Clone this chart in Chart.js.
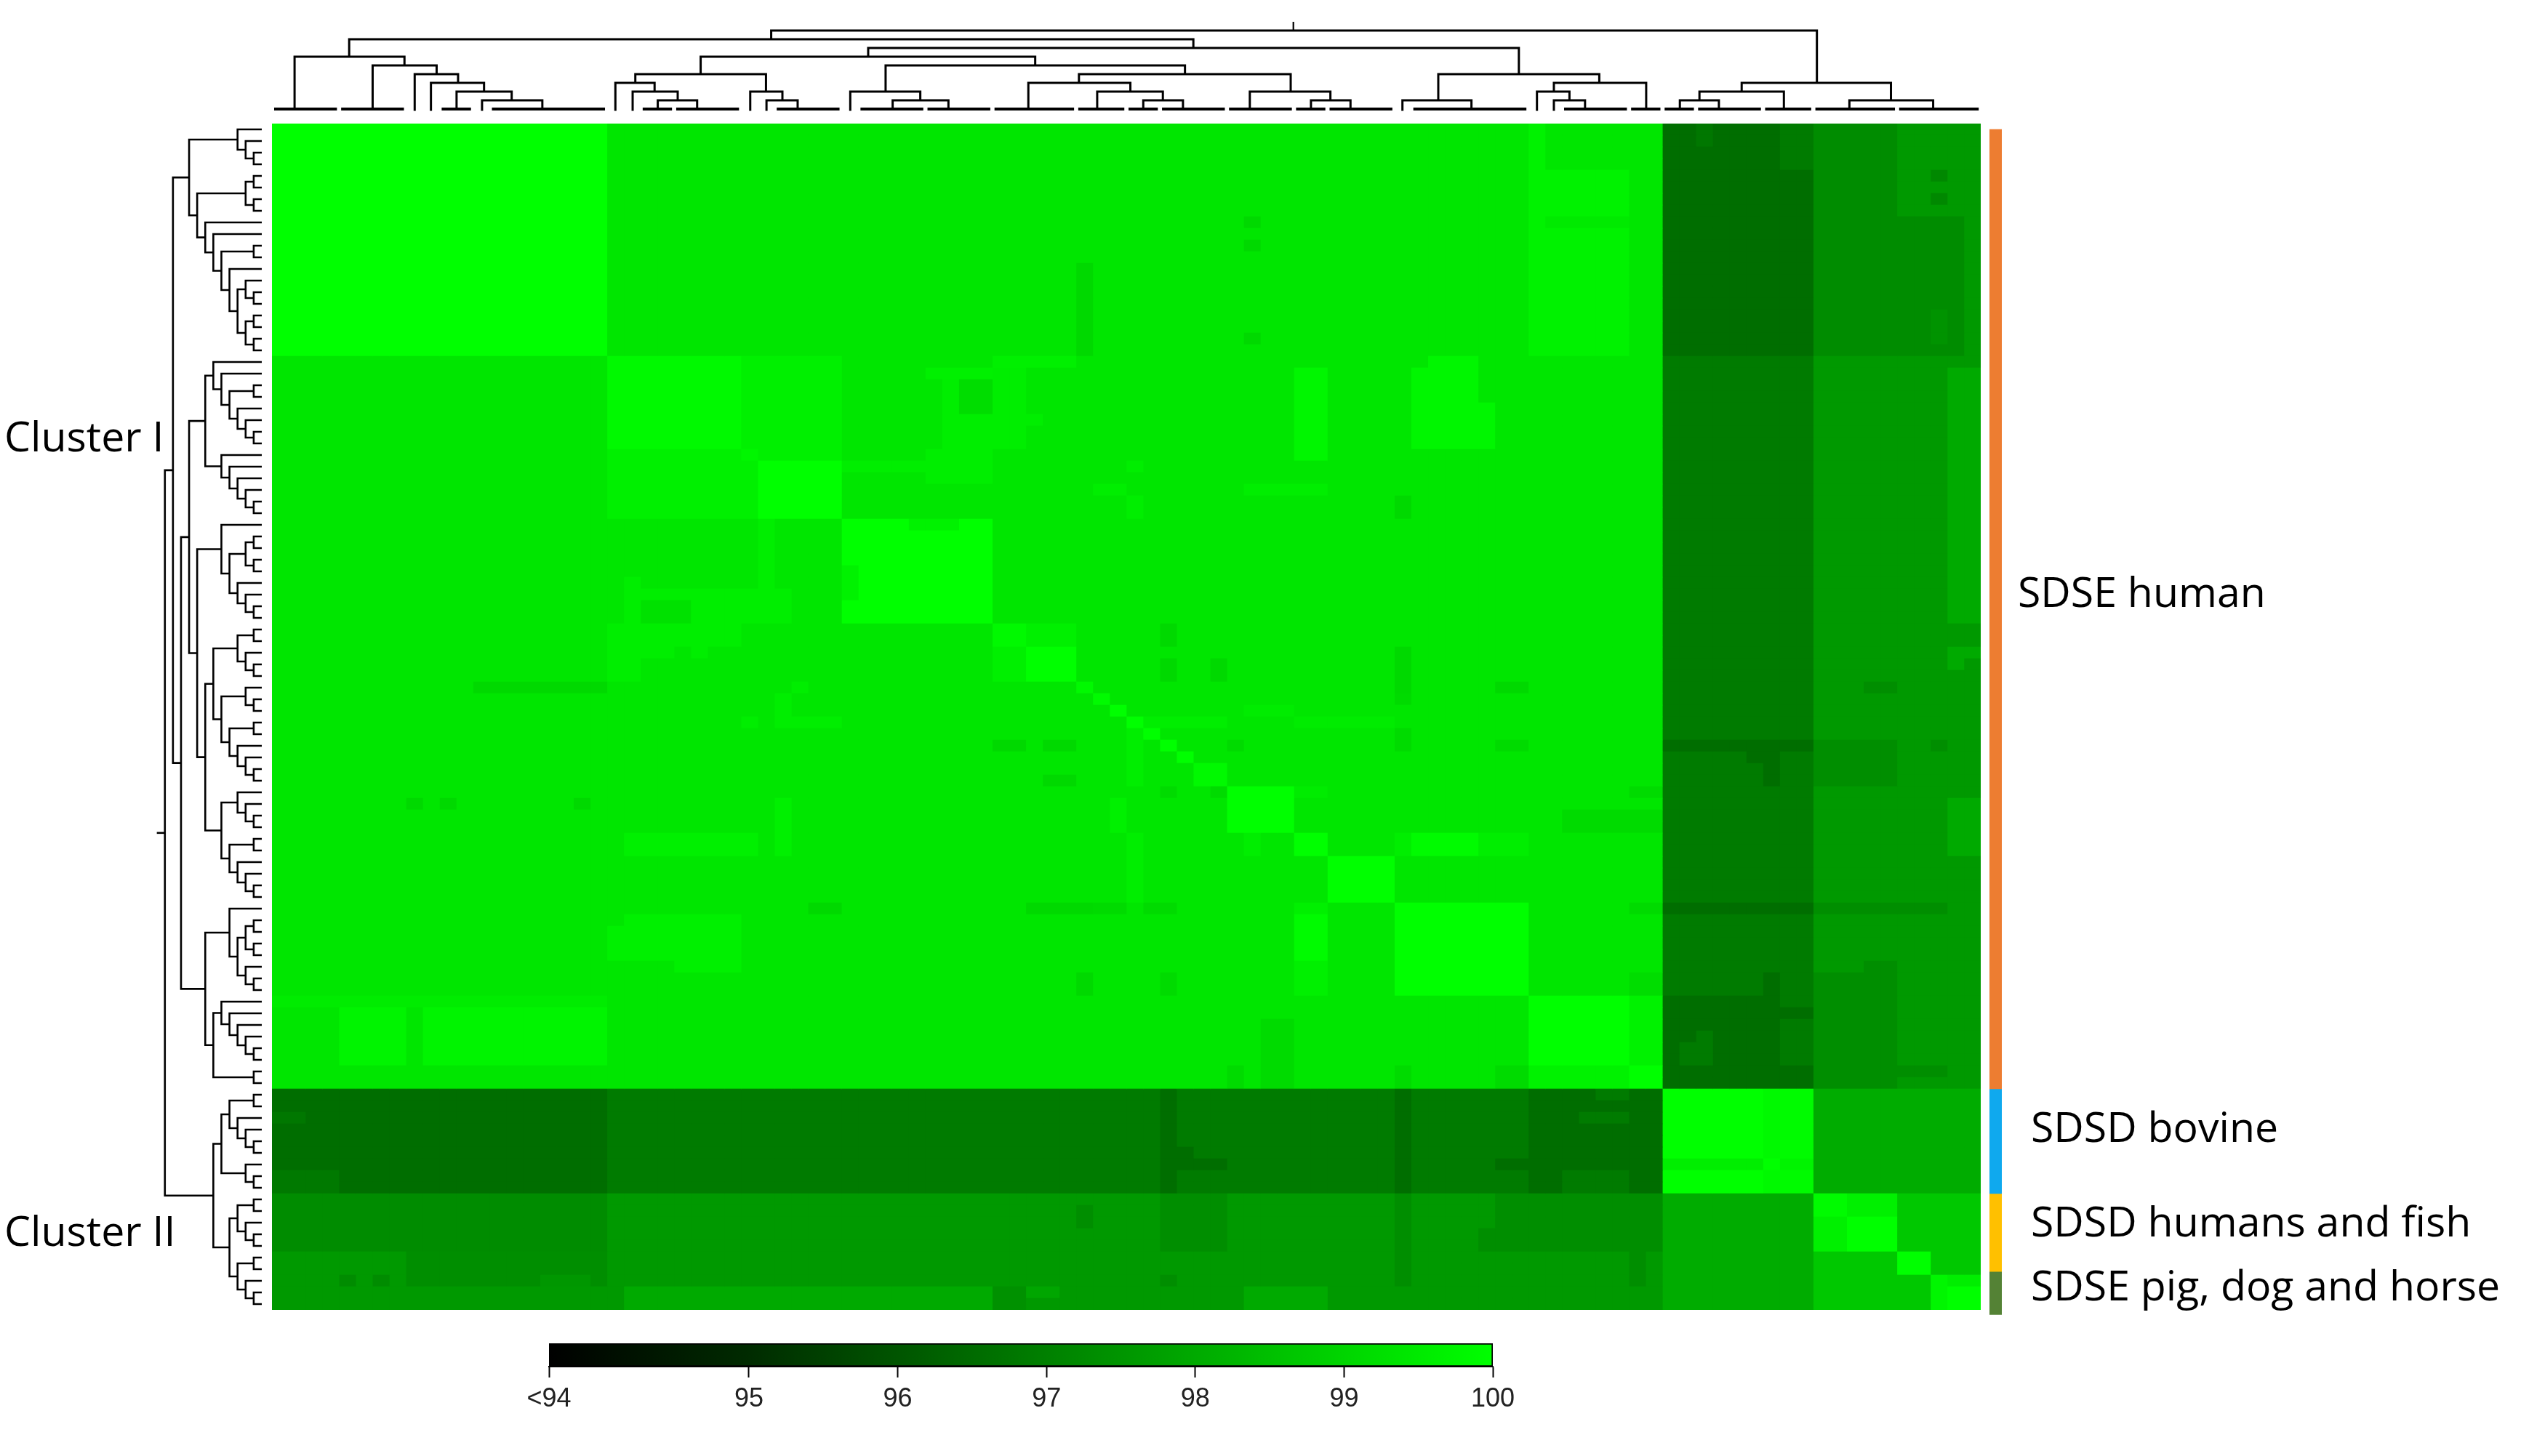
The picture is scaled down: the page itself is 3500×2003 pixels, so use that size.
<!DOCTYPE html>
<html>
<head>
<meta charset="utf-8">
<title>SDSE / SDSD identity heatmap</title>
<script src="https://cdn.jsdelivr.net/npm/chart.js@4"></script>
<style>
  html, body { margin: 0; background: #fff; }
  #page { position: relative; width: 3500px; height: 2003px; overflow: hidden; }
  canvas { position: absolute; }
  .label { position: absolute; font-family: "Open Sans", sans-serif; font-size: 57.2px; line-height: 1; color: #000; white-space: nowrap; }
</style>
</head>
<body>
<div id="page">
  <div class="label" style="left:6px;top:571px">Cluster I</div>
  <div class="label" style="left:6px;top:1664px">Cluster II</div>
  <div class="label" style="left:2775px;top:785px">SDSE human</div>
  <div class="label" style="left:2793px;top:1521px">SDSD bovine</div>
  <div class="label" style="left:2793px;top:1651px">SDSD humans and fish</div>
  <div class="label" style="left:2793px;top:1739px">SDSE pig, dog and horse</div>
</div>
<script>
// 102 isolates in the same order on both axes, values are % identity
const isolateCount = 102;

// large blocks of the matrix: row band x column band
const blockRows = [0, 20, 83, 92, 97, 102];
const blockCols = [0, 20, 83, 92, 97, 102];
const blockValues = [
    [100, 99.4, 96.6, 97.3, 97.6],
    [99.4, 99.4, 96.9, 97.6, 97.6],
    [96.6, 96.9, 100, 98.05, 98.05],
    [97.3, 97.6, 98.05, 100, 98.7],
    [97.6, 97.6, 98.05, 98.7, 98.7]
];

// smaller areas: [rowFrom, rowTo, colFrom, colTo, value]
const upperPatches = [
    [0,20,75,76,99.7], [4,8,76,81,99.7], [9,20,76,81,99.7], [8,9,76,81,99.5],
    [0,2,85,86,96.8], [0,4,90,92,96.9],
    [8,20,97,101,97.3], [4,5,99,100,97.2], [6,7,99,100,97.2], [16,19,99,100,97.45],
    [12,20,48,49,99.1], [8,9,58,59,99.1], [10,11,58,59,99.1], [18,19,58,59,99.1],
    [21,43,100,102,98], [58,63,100,102,98], [45,46,100,102,98], [46,47,100,101,98]
];
const middlePatches = [
    [20,29,28,34,99.65], [28,34,20,29,99.65], [28,29,28,29,99.8],
    [21,22,39,43,99.65], [22,29,40,41,99.6], [22,25,41,43,99.2], [25,28,41,43,99.6],
    [28,31,39,43,99.6], [29,30,34,39,99.6], [20,21,43,48,99.65], [21,28,43,45,99.6], [25,26,45,46,99.6],
    [34,43,29,30,99.6], [39,48,21,22,99.6], [40,41,22,28,99.6], [40,43,25,31,99.6], [41,43,22,25,99.3],
    [43,45,20,28,99.6], [45,46,22,24,99.6], [45,46,25,26,99.6], [45,48,20,21,99.6],
    [48,49,12,20,99.1], [48,49,31,32,99.6], [49,52,30,31,99.6], [51,52,31,34,99.6], [51,52,28,29,99.6],
    [53,54,43,45,99.1], [53,54,46,48,99.1], [56,57,46,48,99.1],
    [58,59,8,9,99.1], [58,59,10,11,99.1], [58,59,18,19,99.1],
    [58,63,30,31,99.65], [61,63,21,29,99.65], [67,68,32,34,99.1], [67,68,45,51,99.1],
    [68,69,21,28,99.65], [69,72,20,28,99.65], [72,73,24,28,99.65], [73,75,48,49,99.1],
    [75,76,0,20,99.55], [76,81,4,8,99.75], [76,81,9,20,99.75],
    [21,29,61,63,99.8], [21,28,68,72,99.8], [20,21,69,72,99.8], [24,28,72,73,99.8],
    [29,30,51,52,99.6], [31,32,49,51,99.6], [32,34,51,52,99.6], [31,32,58,63,99.6], [32,34,67,68,99.1],
    [43,45,53,54,99.1], [46,48,53,54,99.1], [46,48,56,57,99.1], [45,49,67,68,99.1], [48,49,73,75,99.1],
    [51,52,51,57,99.6], [51,57,51,52,99.6], [50,51,58,61,99.55], [51,52,61,67,99.55],
    [49,50,67,68,99.15], [52,54,67,68,99.15], [53,54,73,75,99.15], [53,54,57,58,99.15],
    [57,58,53,54,99.15], [57,58,56,57,99.15], [57,58,61,63,99.55], [57,58,81,83,99.15],
    [58,61,50,51,99.65], [61,67,51,52,99.6], [61,63,58,59,99.6],
    [61,63,68,72,99.9], [61,63,67,68,99.6], [61,63,72,75,99.6], [59,61,77,83,99.15],
    [67,68,61,63,99.65], [68,72,61,63,99.9], [72,75,61,63,99.65],
    [67,68,49,51,99.15], [67,68,52,54,99.15], [67,68,81,83,99.15], [73,75,53,54,99.15], [73,75,81,83,99.2],
    [77,83,59,61,99.15], [81,83,57,58,99.15], [81,83,67,68,99.15], [81,83,73,75,99.15]
];
const darkColumnPatches = [
    [53,54,83,92,96.6], [53,57,92,97,97.35], [53,54,99,100,97.35], [54,55,88,90,96.6], [55,57,89,90,96.6],
    [67,68,83,92,96.6], [67,68,92,100,97.35], [73,75,89,90,96.6], [73,75,92,95,97.35], [72,75,95,97,97.35],
    [75,83,83,90,96.6], [75,77,90,92,96.9], [76,77,90,92,96.6], [81,83,90,92,96.6], [79,81,84,85,96.9], [78,81,85,86,96.9],
    [75,83,92,97,97.35], [81,82,97,100,97.35], [48,49,95,97,97.35]
];
const lowerPatches = [
    [85,86,0,2,96.8], [90,92,0,4,96.85],
    [83,92,53,54,96.6], [83,92,67,68,96.6], [83,92,75,83,96.6], [83,84,79,81,96.9], [85,86,78,81,96.9], [90,92,77,81,96.9],
    [89,90,73,76,96.6], [89,90,54,57,96.6], [88,89,54,55,96.6],
    [92,97,53,57,97.35], [92,100,67,68,97.35], [92,95,73,83,97.35], [95,97,72,83,97.35], [97,100,81,82,97.35],
    [99,100,53,54,97.35], [93,95,48,49,97.35],
    [97,99,8,20,97.35], [99,100,8,16,97.35], [99,100,16,19,97.55], [99,100,19,20,97.35], [99,100,4,5,97.3], [99,100,6,7,97.3],
    [100,102,21,43,98], [100,102,58,63,98], [100,102,43,45,97.4], [100,101,45,47,97.9]
];
const diagonalPatches = [
    [20,28,20,28,99.85], [29,34,29,34,100], [34,43,34,43,100], [34,35,38,41,99.7], [38,41,34,35,99.7],
    [43,45,43,45,99.85], [43,45,45,48,99.65], [45,48,43,45,99.65], [45,48,45,48,100],
    [48,49,48,49,99.85], [49,50,49,50,99.9], [50,51,50,51,100], [51,52,51,52,100], [52,53,52,53,100],
    [53,54,53,54,100], [54,55,54,55,100], [55,57,55,57,99.85],
    [57,61,57,61,100], [61,63,61,63,100], [63,67,63,67,100], [67,75,67,75,100], [75,81,75,81,100],
    [81,83,75,81,99.7], [75,81,81,83,99.7], [81,83,81,83,100],
    [83,92,89,90,99.85], [83,92,90,92,99.9], [89,90,83,89,99.6], [89,90,90,92,99.75], [89,90,89,90,100],
    [92,94,92,94,99.9], [92,94,94,97,99.65], [94,97,92,94,99.65],
    [97,99,97,99,100], [99,102,99,100,99.8], [100,102,100,102,100], [99,100,100,102,99.6]
];

// row dendrogram, [height, childA, childB], a plain number is a row
const rowTreeClusterOne = [9,
    [3, 0, [2, 1, [1, 2, 3]]],
    [8,
        [2, [1, 4, 5], [1, 6, 7]],
        [7, 8, [6, 9, [5, [1, 10, 11], [4, 12, [3, [2, 13, [1, 14, 15]], [2, [1, 16, 17], [1, 18, 19]]]]]]]]];
const rowTreeP = [7,
    [6, 20, [5, 21, [4, [1, 22, 23], [3, 24, [2, 25, [1, 26, 27]]]]]],
    [5, 28, [4, 29, [3, 30, [2, 31, [1, 32, 33]]]]]];
const rowTreeQ = [5, 34, [4, [2, [1, 35, 36], [1, 37, 38]], [3, 39, [2, 40, [1, 41, 42]]]]];
const rowTreeR = [7,
    [6, [3, [1, 43, 44], [2, 45, [1, 46, 47]]],
        [5, [2, 48, [1, 49, 50]], [4, [1, 51, 52], [3, 53, [2, 54, [1, 55, 56]]]]]],
    [5, [3, 57, [2, 58, [1, 59, 60]]], [4, [1, 61, 62], [3, 63, [2, 64, [1, 65, 66]]]]]];
const rowTreeS = [7,
    [4, 67, [3, [2, [1, 68, 69], [1, 70, 71]], [2, 72, [1, 73, 74]]]],
    [6, [5, 75, [4, 76, [3, 77, [2, 78, [1, 79, 80]]]]], [1, 81, 82]]];
const rowTreeClusterTwo = [6,
    [5, [4, [1, 83, 84], [3, 85, [2, 86, [1, 87, 88]]]], [2, 89, [1, 90, 91]]],
    [4, [3, [1, 92, 93], [2, 94, [1, 95, 96]]], [3, [1, 97, 98], [2, 99, [1, 100, 101]]]]];
const rowTree = [12, [11, rowTreeClusterOne, [10, [9, rowTreeP, [8, rowTreeQ, rowTreeR]], rowTreeS]], rowTreeClusterTwo];
const rowStemHeight = 13;

// column dendrogram, merged leaves are flat bars [fromCol, toCol]
const colLeafBars = [[0,4],[4,8],[10,12],[13,20],[22,24],[24,28],[30,34],[35,39],[39,43],[43,48],[48,51],[51,53],[53,57],
    [57,61],[61,63],[63,67],[68,75],[77,81],[81,83],[83,85],[85,89],[89,92],[92,97],[97,102]];
// [height, xLeft, leftDownTo, xRight, rightDownTo]
const tick = -0.2;
const colLinks = [
    [6,1.35,0,7.91,5], [5,6.01,0,9.83,4], [4,8.52,tick,11.11,3], [3,9.49,tick,12.66,2], [2,11.02,0,14.31,1], [1,12.54,tick,16.14,0],
    [8,4.61,6,55.0,7], [9,29.8,8,92.22,3], [7,35.59,6,74.43,4], [6,25.59,4,45.56,5],
    [4,21.69,3,29.49,2], [3,20.5,tick,22.84,2], [2,21.53,tick,24.22,1], [1,23.03,0,25.38,0], [2,28.55,tick,30.47,1], [1,29.52,tick,31.38,0],
    [5,36.63,2,54.5,4], [2,34.52,tick,38.7,1], [1,37.05,0,40.38,0],
    [4,48.17,3,60.81,2], [3,45.15,0,51.24,2], [2,49.26,0,53.18,1], [1,52.01,0,54.38,0], [2,58.37,0,63.18,1], [1,62.02,0,64.38,0],
    [4,69.62,1,79.23,3], [1,67.48,tick,71.6,0], [3,76.52,2,82.03,0], [2,75.51,tick,77.45,1], [1,76.52,tick,78.38,0],
    [3,87.73,2,96.64,1], [2,85.21,1,90.25,0], [1,84.04,0,86.37,0], [1,94.16,0,99.16,0]
];
const colStem = [60.97, 9, 10];

// colour bar
const colorbarTicks = [93.656, 95, 96, 97, 98, 99, 100];
const colorbarLabels = ["<94", "95", "96", "97", "98", "99", "100"];

// groups next to the heatmap
const groupNames = ["SDSE human", "SDSD bovine", "SDSD humans and fish", "SDSE pig, dog and horse"];
const groupRanges = [[0.5, 83], [83, 92], [92, 98.7], [98.7, 102.4]];
const groupColors = ["#ED7D31", "#0FA9EE", "#FFC000", "#548235"];

function identityColor(v) {
    const g = Math.round(255 * Math.max(0, v - 94) / 6);
    return `rgb(0,${g},0)`;
}

function buildMatrix() {
    const matrix = [];
    for (let r = 0; r < isolateCount; r++) {
        matrix.push(new Array(isolateCount).fill(0));
    }
    blockValues.forEach((row, i) => {
        row.forEach((v, j) => paint(matrix, blockRows[i], blockRows[i + 1], blockCols[j], blockCols[j + 1], v));
    });
    [upperPatches, middlePatches, darkColumnPatches, lowerPatches, diagonalPatches].forEach(list => {
        list.forEach(p => paint(matrix, p[0], p[1], p[2], p[3], p[4]));
    });
    return matrix;
}

function paint(matrix, r0, r1, c0, c1, v) {
    for (let r = r0; r < r1; r++) {
        for (let c = c0; c < c1; c++) matrix[r][c] = v;
    }
}

function addCanvas(left, top, width, height) {
    const canvas = document.createElement("canvas");
    canvas.width = width;
    canvas.height = height;
    canvas.style.left = left + "px";
    canvas.style.top = top + "px";
    document.getElementById("page").appendChild(canvas);
    return canvas.getContext("2d");
}

const baseOptions = {
    responsive: false,
    animation: false,
    events: [],
    plugins: { legend: { display: false }, tooltip: { enabled: false } }
};

function drawHeatmap() {
    const matrix = buildMatrix();
    const rowLabels = matrix.map((_, r) => r);
    const datasets = [];
    for (let c = 0; c < isolateCount; c++) {
        datasets.push({
            // first dataset is painted last, so each column runs a bit under the one on its left: no seams
            data: matrix.map(() => [c - 0.1, c + 1]),
            backgroundColor: matrix.map(row => identityColor(row[c])),
            borderWidth: 0,
            categoryPercentage: 1,
            barPercentage: 1,
            grouped: false
        });
    }
    new Chart(addCanvas(374, 170, 2350, 1632), {
        type: "bar",
        data: { labels: rowLabels, datasets: datasets },
        options: {
            ...baseOptions,
            indexAxis: "y",
            scales: {
                x: { type: "linear", min: 0, max: isolateCount, display: false },
                // a vertical category axis already runs top to bottom
                y: { display: false }
            }
        }
    });
}

function lineDataset(points, width) {
    return {
        data: points,
        showLine: true,
        borderColor: "#000",
        borderWidth: width,
        pointRadius: 0,
        borderCapStyle: "butt",
        borderJoinStyle: "miter",
        tension: 0
    };
}

function drawColumnTree() {
    const datasets = [];
    colLinks.forEach(l => {
        datasets.push(lineDataset([{ x: l[1], y: l[2] }, { x: l[1], y: l[0] }, { x: l[3], y: l[0] }, { x: l[3], y: l[4] }], 3));
    });
    colLeafBars.forEach(b => {
        datasets.push(lineDataset([{ x: b[0] + 0.13, y: 0 }, { x: b[1] - 0.12, y: 0 }], 4));
    });
    datasets.push(lineDataset([{ x: colStem[0], y: colStem[1] }, { x: colStem[0], y: colStem[2] }], 2.2));
    new Chart(addCanvas(374, 18, 2350, 144), {
        type: "scatter",
        data: { datasets: datasets },
        options: {
            ...baseOptions,
            scales: {
                x: { type: "linear", min: 0, max: isolateCount, display: false },
                y: { type: "linear", min: -1, max: 11, display: false }
            }
        }
    });
}

// walks the nested tree, returns where a node sits and adds its lines
function walkRowTree(node, datasets) {
    if (typeof node === "number") return { h: 0, y: node + 0.5 };
    const a = walkRowTree(node[1], datasets);
    const b = walkRowTree(node[2], datasets);
    const h = node[0];
    datasets.push(lineDataset([{ x: a.h, y: a.y }, { x: h, y: a.y }, { x: h, y: b.y }, { x: b.h, y: b.y }], 2.6));
    return { h: h, y: (a.y + b.y) / 2 };
}

function drawRowTree() {
    const datasets = [];
    const root = walkRowTree(rowTree, datasets);
    datasets.push(lineDataset([{ x: root.h, y: root.y }, { x: rowStemHeight, y: root.y }], 2.6));
    new Chart(addCanvas(200, 170, 170, 1632), {
        type: "scatter",
        data: { datasets: datasets },
        options: {
            ...baseOptions,
            scales: {
                x: { type: "linear", reverse: true, min: -0.9, max: 14.41, display: false },
                y: { type: "linear", reverse: true, min: 0, max: isolateCount, display: false }
            }
        }
    });
}

function drawGroupBar() {
    new Chart(addCanvas(2736, 170, 17, 1640), {
        type: "bar",
        data: {
            labels: ["groups"],
            datasets: groupNames.map((name, i) => ({
                label: name,
                data: [groupRanges[i]],
                backgroundColor: groupColors[i],
                borderWidth: 0,
                categoryPercentage: 1,
                barPercentage: 1,
                grouped: false
            }))
        },
        options: {
            ...baseOptions,
            scales: {
                x: { display: false },
                y: { type: "linear", reverse: true, min: 0, max: 102.5, display: false }
            }
        }
    });
}

function drawColorbar() {
    const low = colorbarTicks[0];
    const high = colorbarTicks[colorbarTicks.length - 1];
    new Chart(addCanvas(655, 1840, 1500, 110), {
        type: "bar",
        data: {
            labels: ["identity"],
            datasets: [{
                data: [[low, high]],
                categoryPercentage: 1,
                barPercentage: 1,
                borderColor: "#000",
                borderWidth: 2,
                backgroundColor: ctx => {
                    const area = ctx.chart.chartArea;
                    if (!area) return "#000";
                    const gradient = ctx.chart.ctx.createLinearGradient(area.left, 0, area.right, 0);
                    colorbarTicks.forEach(v => gradient.addColorStop((v - low) / (high - low), identityColor(v)));
                    return gradient;
                }
            }]
        },
        options: {
            ...baseOptions,
            indexAxis: "y",
            layout: { padding: { left: 100, right: 102, top: 8, bottom: 0 } },
            scales: {
                y: { display: false },
                x: {
                    type: "linear",
                    min: low,
                    max: high,
                    afterBuildTicks: scale => { scale.ticks = colorbarTicks.map(v => ({ value: v })); },
                    afterFit: scale => { scale.height = 70; },
                    border: { color: "#000", width: 2 },
                    grid: { drawOnChartArea: false, tickColor: "#000", tickWidth: 2, tickLength: 15 },
                    ticks: {
                        color: "#222",
                        autoSkip: false,
                        maxRotation: 0,
                        padding: 8,
                        font: { family: "Liberation Sans", size: 36 },
                        callback: (value, index) => colorbarLabels[index]
                    }
                }
            }
        }
    });
}

drawHeatmap();
drawColumnTree();
drawRowTree();
drawGroupBar();
drawColorbar();
</script>
</body>
</html>
